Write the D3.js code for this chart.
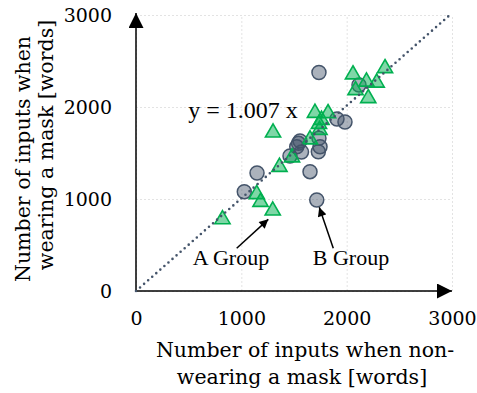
<!DOCTYPE html>
<html>
<head>
<meta charset="utf-8">
<script src="https://cdn.jsdelivr.net/npm/d3@7"></script>
<style>
  body { margin: 0; background: #fff; }
</style>
</head>
<body>
<svg id="chart"></svg>
<script>
// A Group (triangles)
const groupAX = [2364, 2060, 2188, 2285, 2084, 2205, 1699, 1823, 1761, 1737, 1742, 1301, 1652, 1481, 1362, 1146, 1182, 1298, 821];
const groupAY = [2421, 2353, 2275, 2264, 2182, 2095, 1935, 1932, 1859, 1815, 1750, 1721, 1647, 1451, 1348, 1052, 967, 873, 779];
// B Group (circles)
const groupBX = [1737, 1908, 1984, 2117, 1543, 1526, 1571, 1462, 1557, 1737, 1747, 1731, 1652, 1149, 1028, 1716];
const groupBY = [2375, 1870, 1837, 2239, 1605, 1568, 1511, 1467, 1630, 1660, 1568, 1514, 1297, 1283, 1079, 989];

const ticks = [0, 1000, 2000, 3000];
const slope = 1.007;
const groupLabels = ["A Group", "B Group"];
const xTitle = ["Number of inputs when non-", "wearing a mask [words]"];
const yTitle = ["Number of inputs when", "wearing a mask [words]"];

const width = 477, height = 393;
const serif = "'DejaVu Serif', serif";
const times = "'Liberation Serif', 'Times New Roman', serif";

const svg = d3.select("#chart")
  .attr("width", width)
  .attr("height", height)
  .style("font-family", serif);

const x = d3.scaleLinear().domain([0, 3000]).range([136, 452]);
const y = d3.scaleLinear().domain([0, 3000]).range([291, 15]);

// markers
const defs = svg.append("defs");
defs.append("marker")
  .attr("id", "axisHead")
  .attr("viewBox", "0 0 10 10")
  .attr("refX", 10).attr("refY", 5)
  .attr("markerUnits", "userSpaceOnUse")
  .attr("markerWidth", 17).attr("markerHeight", 15)
  .attr("orient", "auto")
  .append("path").attr("d", "M0,0L10,5L0,10z").attr("fill", "#000");
defs.append("marker")
  .attr("id", "noteHead")
  .attr("viewBox", "0 0 10 10")
  .attr("refX", 10).attr("refY", 5)
  .attr("markerUnits", "userSpaceOnUse")
  .attr("markerWidth", 11).attr("markerHeight", 9)
  .attr("orient", "auto")
  .append("path").attr("d", "M0,0L10,5L0,10z").attr("fill", "#000");

// grid
svg.append("g")
  .attr("transform", `translate(0,${y(0)})`)
  .call(d3.axisBottom(x).tickValues(ticks).tickSize(-(y(0) - y(3000))).tickFormat(""))
  .call(g => g.select(".domain").remove())
  .selectAll("line")
  .attr("stroke", "#e3e3e3")
  .attr("stroke-dasharray", "2,2");

svg.append("g")
  .attr("transform", `translate(${x(0)},0)`)
  .call(d3.axisLeft(y).tickValues(ticks).tickSize(-(x(3000) - x(0))).tickFormat(""))
  .call(g => g.select(".domain").remove())
  .selectAll("line")
  .attr("stroke", "#e3e3e3")
  .attr("stroke-dasharray", "2,2");

// tick labels
svg.append("g")
  .attr("transform", `translate(0,${y(0)})`)
  .call(d3.axisBottom(x).tickValues(ticks).tickSize(0).tickPadding(21).tickFormat(d3.format("d")))
  .call(g => g.select(".domain").remove())
  .selectAll("text")
  .attr("fill", "#000")
  .style("font-family", serif)
  .style("font-size", "19px");

svg.append("g")
  .attr("transform", `translate(${x(0)},0)`)
  .call(d3.axisLeft(y).tickValues(ticks).tickSize(0).tickPadding(24).tickFormat(d3.format("d")))
  .call(g => g.select(".domain").remove())
  .selectAll("text")
  .attr("fill", "#000")
  .style("font-family", serif)
  .style("font-size", "19px");

// axis lines with arrows
svg.append("line")
  .attr("x1", x(0)).attr("y1", y(0))
  .attr("x2", x(3000)).attr("y2", y(0))
  .attr("stroke", "#000").attr("stroke-width", 1.5)
  .attr("marker-end", "url(#axisHead)");
svg.append("line")
  .attr("x1", x(0)).attr("y1", y(0))
  .attr("x2", x(0)).attr("y2", y(3000) - 2)
  .attr("stroke", "#000").attr("stroke-width", 1.5)
  .attr("marker-end", "url(#axisHead)");

// B group circles
svg.append("g")
  .selectAll("circle")
  .data(d3.zip(groupBX, groupBY))
  .join("circle")
  .attr("cx", d => x(d[0]))
  .attr("cy", d => y(d[1]))
  .attr("r", 7)
  .attr("fill", "#44546A")
  .attr("fill-opacity", 0.45)
  .attr("stroke", "#44546A")
  .attr("stroke-width", 1.5);

// A group triangles
svg.append("g")
  .selectAll("path")
  .data(d3.zip(groupAX, groupAY))
  .join("path")
  .attr("d", d3.symbol(d3.symbolTriangle, 100))
  .attr("transform", d => `translate(${x(d[0])},${y(d[1])})`)
  .attr("fill", "#00B050")
  .attr("fill-opacity", 0.5)
  .attr("stroke", "#00B050")
  .attr("stroke-width", 1.6);

// regression line
const xEnd = 3000 / slope;
svg.append("path")
  .datum([0, xEnd])
  .attr("d", d3.line().x(d => x(d)).y(d => y(slope * d)))
  .attr("fill", "none")
  .attr("stroke", "#44546A")
  .attr("stroke-width", 2.6)
  .attr("stroke-linecap", "round")
  .attr("stroke-dasharray", "0,5.4");

svg.append("text")
  .attr("x", x(495))
  .attr("y", y(1880))
  .style("font-family", times)
  .style("font-size", "24px")
  .text(`y = ${slope} x`);

// annotations
const notes = [
  { label: groupLabels[0], tx: 902, ty: 283, from: [956, 464], to: [1256, 779] },
  { label: groupLabels[1], tx: 2041, ty: 283, from: [1873, 464], to: [1740, 910] }
];
notes.forEach(n => {
  svg.append("line")
    .attr("x1", x(n.from[0])).attr("y1", y(n.from[1]))
    .attr("x2", x(n.to[0])).attr("y2", y(n.to[1]))
    .attr("stroke", "#000").attr("stroke-width", 1.5)
    .attr("marker-end", "url(#noteHead)");
  svg.append("text")
    .attr("x", x(n.tx)).attr("y", y(n.ty))
    .attr("text-anchor", "middle")
    .style("font-family", times)
    .style("font-size", "22px")
    .text(n.label);
});

// axis titles
svg.append("text")
  .attr("text-anchor", "middle")
  .style("font-size", "20.5px")
  .selectAll("tspan")
  .data(xTitle)
  .join("tspan")
  .attr("x", (d, i) => i === 0 ? 305 : 302)
  .attr("y", (d, i) => 357 + i * 27)
  .text(d => d);

const yLines = [{ cx: 30, cy: 159 }, { cx: 53, cy: 145 }];
yTitle.forEach((t, i) => {
  svg.append("text")
    .attr("text-anchor", "middle")
    .attr("transform", `translate(${yLines[i].cx},${yLines[i].cy}) rotate(-90)`)
    .style("font-size", "20.5px")
    .text(t);
});
</script>
</body>
</html>
